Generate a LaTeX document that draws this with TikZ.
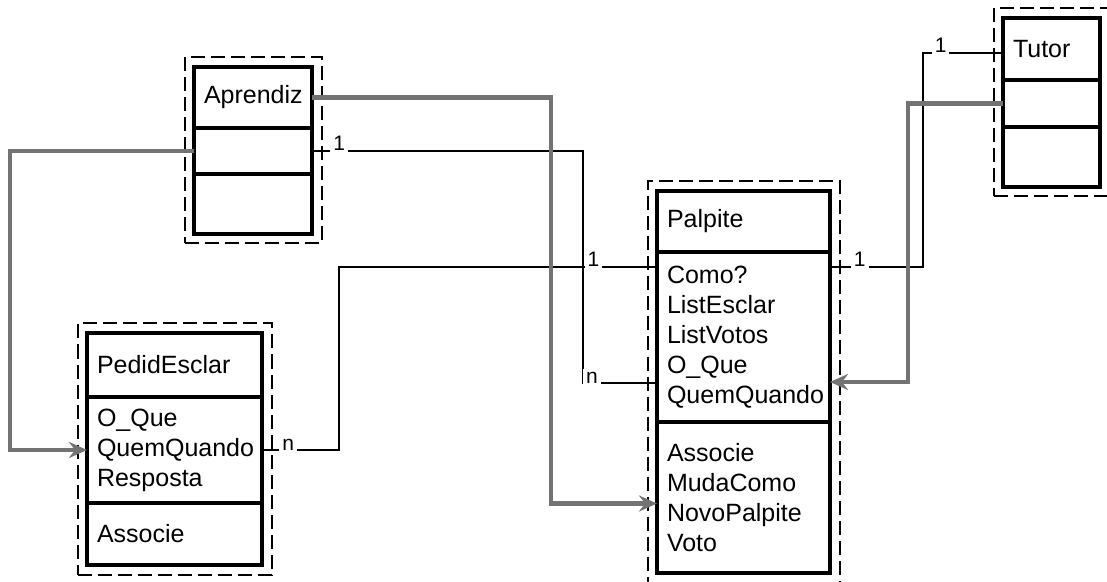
\documentclass[tikz,border=0pt]{standalone}
\usepackage{fontspec}
\setmainfont{Liberation Sans}
\usetikzlibrary{arrows.meta, positioning, fit}

\begin{document}
\begin{tikzpicture}[
			x=0.5pt, y=-0.5pt,
			classe/.style={draw, line width=1.6pt, fill=white, text width=#1, inner xsep=5pt, inner ysep=0pt, outer sep=0pt, align=left, font=\fontsize{12.5}{15}\selectfont},
			moldura/.style={draw, dash pattern=on 7pt off 3pt, line width=1pt, inner sep=4.75pt},
			assoc/.style={line width=0.9pt},
			heranca/.style={draw=black!55, line width=2.2pt, -{Stealth[length=9pt, width=8pt, inset=3pt]}},
			mult/.style={fill=white, inner sep=1.5pt, anchor=base, font=\fontsize{10.5}{12}\selectfont}
			]
			\useasboundingbox (0,0) rectangle (1107,582);
			
			\node[classe=49pt, minimum height=30.5pt, anchor=north west] (aprNome) at (194,67) {Aprendiz};
			\node[classe=49pt, minimum height=23pt, below=0pt of aprNome] (aprAttr) {};
			\node[classe=49pt, minimum height=30pt, below=0pt of aprAttr] (aprOps) {};
			
			\node[classe=77.5pt, minimum height=32pt, anchor=north west] (pedNome) at (87,333) {PedidEsclar};
			\node[classe=77.5pt, minimum height=53pt, below=0pt of pedNome] (pedAttr) {O\_Que\\QuemQuando\\Resposta};
			\node[classe=77.5pt, minimum height=31pt, below=0pt of pedAttr] (pedOps) {Associe};
			
			\node[classe=76.5pt, minimum height=30.5pt, anchor=north west] (palNome) at (657,191) {Palpite};
			\node[classe=76.5pt, minimum height=85pt, below=0pt of palNome] (palAttr) {Como?\\ListEsclar\\ListVotos\\O\_Que\\QuemQuando};
			\node[classe=76.5pt, minimum height=75.5pt, below=0pt of palAttr] (palOps) {Associe\\MudaComo\\NovoPalpite\\Voto};
			
			\node[classe=38.5pt, minimum height=31pt, anchor=north west] (tutNome) at (1003,18) {Tutor};
			\node[classe=38.5pt, minimum height=23.5pt, below=0pt of tutNome] (tutAttr) {};
			\node[classe=38.5pt, minimum height=30pt, below=0pt of tutAttr] (tutOps) {};
			
			\node[moldura, fit=(aprNome)(aprOps)] (aprMoldura) {};
			\node[moldura, fit=(pedNome)(pedOps)] (pedMoldura) {};
			\node[moldura, fit=(palNome)(palOps)] (palMoldura) {};
			\node[moldura, fit=(tutNome)(tutOps)] (tutMoldura) {};
			
			% associacoes
			\draw[assoc] (aprAttr.east) -- node[mult, pos=0.1] {1} ++(271,0) |- node[mult, pos=0.56] {n} ([yshift=19.5pt]palAttr.south west);
			\draw[assoc] (pedAttr.east) -- node[mult, pos=0.34] {n} ++(77,0) |- node[mult, pos=0.9] {1} ([yshift=-7.5pt]palAttr.north west);
			\draw[assoc] ([yshift=-7.5pt]palAttr.north east) -- node[mult, pos=0.32] {1} ++(93,0) |- node[mult, pos=0.61] {1} ([yshift=-2pt]tutNome.west);
			
			% generalizacoes
			\draw[heranca] (aprNome.east) -- ++(239,0) |- ([yshift=-3pt]palOps.west);
			\draw[heranca] (aprAttr.west) -- ++(-184,0) |- (pedAttr.west);
			\draw[heranca] (tutAttr.west) -- ++(-95,0) |- ([yshift=20pt]palAttr.south east);
	\end{tikzpicture}
\end{document}
